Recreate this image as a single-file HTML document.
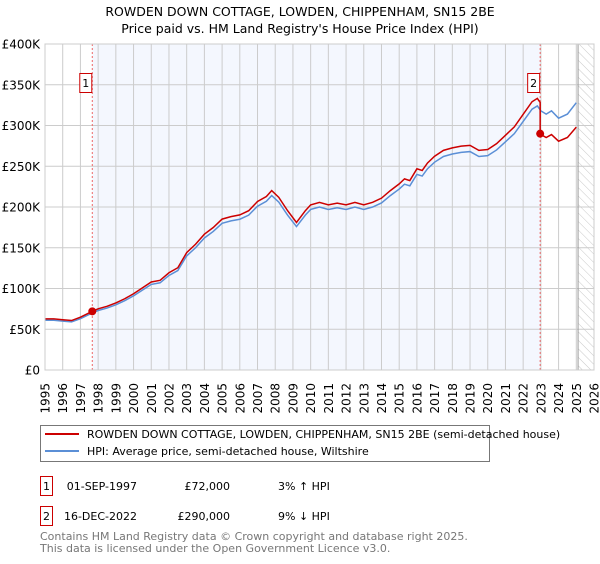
<!DOCTYPE html>
<html><head><meta charset="utf-8"><style>
body{margin:0;background:#fff;font-family:"DejaVu Sans","Liberation Sans",sans-serif;}
svg text{font-family:"DejaVu Sans","Liberation Sans",sans-serif;}
</style></head><body>
<svg id="c" width="600" height="560" xmlns="http://www.w3.org/2000/svg">
<defs><pattern id="hatch" width="6" height="6" patternUnits="userSpaceOnUse" patternTransform="rotate(-45)"><line x1="0" y1="0" x2="0" y2="6" stroke="#bbb" stroke-width="0.8"/></pattern></defs>
<text x="300" y="16" text-anchor="middle" font-size="12.5">ROWDEN DOWN COTTAGE, LOWDEN, CHIPPENHAM, SN15 2BE</text>
<text x="300" y="33" text-anchor="middle" font-size="12.5">Price paid vs. HM Land Registry's House Price Index (HPI)</text>
<g id="plot"></g>
<g>
<rect x="40.5" y="425.5" width="449" height="36" fill="#fff" stroke="#777"/>
<line x1="45" y1="434" x2="79" y2="434" stroke="#cc0000" stroke-width="2"/>
<text x="87" y="438" font-size="11">ROWDEN DOWN COTTAGE, LOWDEN, CHIPPENHAM, SN15 2BE (semi-detached house)</text>
<line x1="45" y1="451" x2="79" y2="451" stroke="#5b8fd6" stroke-width="2"/>
<text x="87" y="455" font-size="11">HPI: Average price, semi-detached house, Wiltshire</text>
</g>
<g font-size="11">
<rect x="40.5" y="476.5" width="12" height="19" fill="#fff" stroke="#cc0000"/>
<text x="46.5" y="490" text-anchor="middle">1</text>
<text x="137" y="490" text-anchor="end">01-SEP-1997</text>
<text x="230" y="490" text-anchor="end">£72,000</text>
<text x="278" y="490">3% ↑ HPI</text>
<rect x="40.5" y="506.5" width="12" height="19" fill="#fff" stroke="#cc0000"/>
<text x="46.5" y="520" text-anchor="middle">2</text>
<text x="137" y="520" text-anchor="end">16-DEC-2022</text>
<text x="230" y="520" text-anchor="end">£290,000</text>
<text x="278" y="520">9% ↓ HPI</text>
</g>
<text x="40" y="540" font-size="11" fill="#777">Contains HM Land Registry data © Crown copyright and database right 2025.</text>
<text x="40" y="552" font-size="11" fill="#777">This data is licensed under the Open Government Licence v3.0.</text>
</svg>
<script>
const hpiYears=[1995,1995.5,1996,1996.5,1997,1997.67,1998,1998.5,1999,1999.5,2000,2000.5,2001,2001.5,2002,2002.5,2003,2003.5,2004,2004.5,2005,2005.5,2006,2006.5,2007,2007.5,2007.8,2008.2,2008.7,2009.2,2009.7,2010,2010.5,2011,2011.5,2012,2012.5,2013,2013.5,2014,2014.5,2015,2015.3,2015.6,2016,2016.3,2016.6,2017,2017.5,2018,2018.5,2019,2019.5,2020,2020.5,2021,2021.5,2022,2022.5,2022.8,2023,2023.3,2023.6,2024,2024.5,2025];
const hpiValues=[61,61,60,59,63,70,73,76,80,85,91,98,105,107,116,122,140,150,162,170,180,183,185,190,201,207,214,206,190,176,190,197,200,197,199,197,200,197,200,205,214,222,228,226,240,238,247,255,262,265,267,268,262,263,270,280,290,305,320,324,318,314,318,309,314,328];
const saleYears=[1997.67,2022.96];
const salePrices=[72,290];
const saleLabels=["1","2"];
const yTicks=[0,50,100,150,200,250,300,350,400];
const yTickLabels=["£0","£50K","£100K","£150K","£200K","£250K","£300K","£350K","£400K"];
const xTicks=[];for(let y=1995;y<=2026;y++)xTicks.push(y);
const x0=45,x1=594,yTop=44,yBot=370,xmin=1995,xmax=2026,ymax=400,hatchStart=2025.1;
const X=v=>x0+(v-xmin)/(xmax-xmin)*(x1-x0);
const Y=v=>yBot-v/ymax*(yBot-yTop);
const NS="http://www.w3.org/2000/svg";
const g=document.getElementById('plot');
function mk(t,a,p){const e=document.createElementNS(NS,t);for(const k in a)e.setAttribute(k,a[k]);(p||g).appendChild(e);return e;}
function hpiAt(t){for(let i=0;i<hpiYears.length-1;i++){if(t>=hpiYears[i]&&t<=hpiYears[i+1]){const f=(t-hpiYears[i])/(hpiYears[i+1]-hpiYears[i]);return hpiValues[i]+f*(hpiValues[i+1]-hpiValues[i]);}}return hpiValues[hpiValues.length-1];}
let r=mk('rect',{x:X(saleYears[0]),y:yTop,width:X(saleYears[1])-X(saleYears[0]),height:yBot-yTop,fill:'#f4f7fe'});

r=mk('rect',{x:X(hatchStart),y:yTop,width:x1-X(hatchStart),height:yBot-yTop,fill:'url(#hatch)'});

xTicks.forEach(t=>{const l=mk('line',{x1:X(t),y1:yTop,x2:X(t),y2:yBot,stroke:'#ccc','stroke-width':1});

const tx=mk('text',{x:0,y:0,'font-size':12,'text-anchor':'end',transform:`translate(${X(t)+4.5},383) rotate(-90)`});tx.textContent=t;
});
yTicks.forEach((t,i)=>{const l=mk('line',{x1:x0,y1:Y(t),x2:x1,y2:Y(t),stroke:'#ccc','stroke-width':1});

const tx=mk('text',{x:40,y:Y(t)+4.5,'font-size':12,'text-anchor':'end'});tx.textContent=yTickLabels[i];
});
let l=mk('line',{x1:X(hatchStart),y1:yTop,x2:X(hatchStart),y2:yBot,stroke:'#999','stroke-width':1});

saleYears.forEach((s,i)=>{const d=mk('line',{x1:X(s),y1:yTop,x2:X(s),y2:yBot,stroke:'#e66','stroke-width':1,'stroke-dasharray':'2,2'});
});
let pts=hpiYears.map((t,i)=>X(t)+','+Y(hpiValues[i])).join(' ');
let p=mk('polyline',{points:pts,fill:'none',stroke:'#5b8fd6','stroke-width':1.5});

const rp=[];
const f1=salePrices[0]/hpiAt(saleYears[0]);
hpiYears.forEach((t,i)=>{if(t<saleYears[1])rp.push([t,hpiValues[i]*f1]);});
rp.push([saleYears[1],hpiAt(saleYears[1])*f1]);
rp.push([saleYears[1],salePrices[1]]);
const f2=salePrices[1]/hpiAt(saleYears[1]);
hpiYears.forEach((t,i)=>{if(t>saleYears[1])rp.push([t,hpiValues[i]*f2]);});
p=mk('polyline',{points:rp.map(q=>X(q[0])+','+Y(q[1])).join(' '),fill:'none',stroke:'#cc0000','stroke-width':1.5});

saleYears.forEach((s,i)=>{const c=mk('circle',{cx:X(s),cy:Y(salePrices[i]),r:4,fill:'#cc0000'});

const bx=X(s)-13;const b=mk('rect',{x:bx+0.5,y:73.5,width:12,height:19,fill:'#fff',stroke:'#cc0000'});

const tx=mk('text',{x:bx+6.5,y:87,'font-size':11,'text-anchor':'middle'});tx.textContent=saleLabels[i];
});
l=mk('rect',{x:x0,y:yTop,width:x1-x0,height:yBot-yTop,fill:'none',stroke:'#ccc'});

</script>
</body></html>
